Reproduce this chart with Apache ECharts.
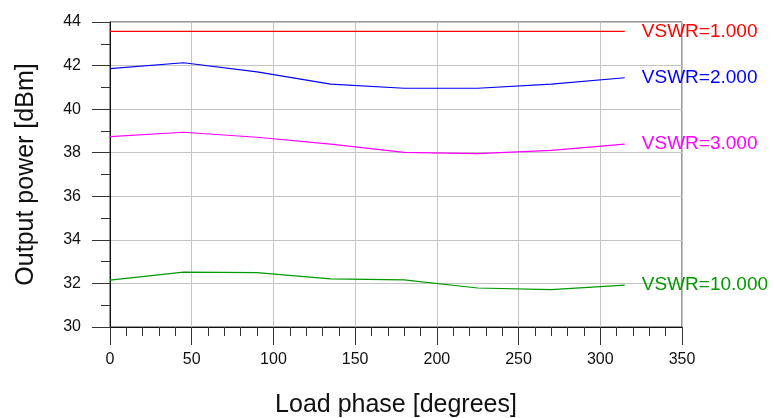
<!DOCTYPE html>
<html>
<head>
<meta charset="utf-8">
<script src="https://cdn.jsdelivr.net/npm/echarts@6/dist/echarts.min.js"></script>
<style>
  html, body { margin: 0; padding: 0; background: #fff; }
  #chart { width: 774px; height: 418px; }
</style>
</head>
<body>
<div id="chart"></div>
<script>
// load phase points (degrees)
const phases = [0, 45, 90, 135, 180, 225, 270, 315];
// output power per VSWR (dBm)
const vswr1 = [43.57, 43.57, 43.57, 43.57, 43.57, 43.57, 43.57, 43.57];
const vswr2 = [41.86, 42.13, 41.71, 41.15, 40.96, 40.96, 41.15, 41.44];
const vswr3 = [38.74, 38.94, 38.71, 38.39, 38.02, 37.96, 38.11, 38.39];
const vswr10 = [32.15, 32.52, 32.5, 32.21, 32.16, 31.79, 31.72, 31.92];
const seriesNames = ["VSWR=1.000", "VSWR=2.000", "VSWR=3.000", "VSWR=10.000"];
const seriesColors = ["#ff0000", "#0000ff", "#ff00ff", "#009900"];

const FONT = "Liberation Sans, Arial, sans-serif";

//build one line series
const makeSeries = (name, values, color) => ({
  name: name,
  type: "line",
  data: phases.map((p, i) => [p, values[i]]),
  showSymbol: false,
  symbol: "none",
  lineStyle: { color: color, width: 1.2 },
  itemStyle: { color: color },
  endLabel: {
    show: true,
    formatter: "{a}",
    distance: 17,
    color: color,
    fontSize: 19,
    fontFamily: FONT,
  },
  animation: false,
});

const chart = echarts.init(document.getElementById("chart"));
chart.setOption({
  animation: false,
  grid: {
    left: 110,
    right: 92,
    top: 22,
    bottom: 91,
    containLabel: false,
    outerBoundsMode: "none",
    show: true,
    borderColor: "#333",
    borderWidth: 1,
  },
  xAxis: {
    type: "value",
    min: 0,
    max: 350,
    interval: 50,
    name: "Load phase [degrees]",
    nameLocation: "middle",
    nameGap: 66,
    nameTextStyle: { fontSize: 25, color: "#111", fontFamily: FONT },
    axisLine: { show: true, lineStyle: { color: "#111", width: 1 } },
    axisTick: { show: true, inside: false, length: 18, lineStyle: { color: "#333" } },
    minorTick: { show: true, splitNumber: 5, length: 9, lineStyle: { color: "#333" } },
    axisLabel: { fontSize: 16, color: "#111", margin: 25, fontFamily: FONT },
    splitLine: { show: true, lineStyle: { color: "#c4c4c4", width: 1 } },
  },
  yAxis: {
    type: "value",
    min: 30,
    max: 44,
    interval: 2,
    name: "Output power [dBm]",
    nameLocation: "middle",
    nameGap: 71,
    nameTextStyle: { fontSize: 25, color: "#111", fontFamily: FONT },
    axisLine: { show: true, lineStyle: { color: "#111", width: 1 } },
    axisTick: { show: true, inside: false, length: 18, lineStyle: { color: "#333" } },
    minorTick: { show: true, splitNumber: 2, length: 9, lineStyle: { color: "#333" } },
    axisLabel: { fontSize: 16, color: "#111", margin: 29, fontFamily: FONT },
    splitLine: { show: true, lineStyle: { color: "#c4c4c4", width: 1 } },
  },
  series: [
    makeSeries(seriesNames[0], vswr1, seriesColors[0]),
    makeSeries(seriesNames[1], vswr2, seriesColors[1]),
    makeSeries(seriesNames[2], vswr3, seriesColors[2]),
    makeSeries(seriesNames[3], vswr10, seriesColors[3]),
  ],
});
</script>
</body>
</html>
